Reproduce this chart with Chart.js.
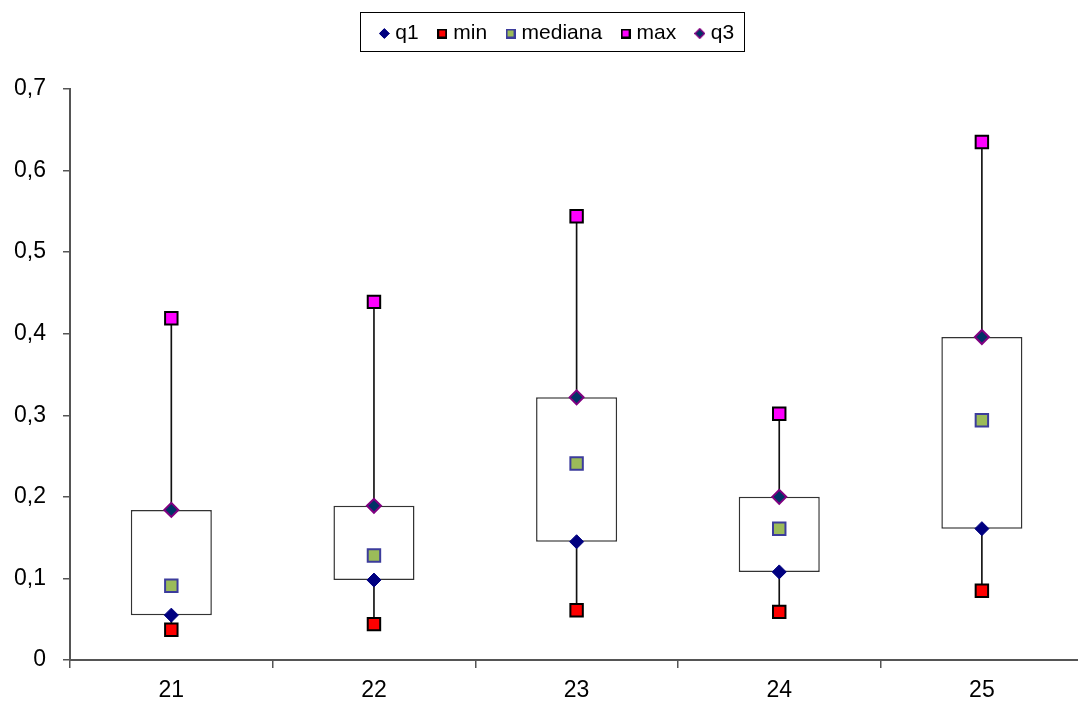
<!DOCTYPE html>
<html>
<head>
<meta charset="utf-8">
<title>Box plot 21–25</title>
<script src="https://cdn.jsdelivr.net/npm/chart.js@4/dist/chart.umd.min.js"></script>
<style>
  html, body { margin: 0; padding: 0; background: #fff; overflow: hidden; }
  #wrap { width: 1078px; height: 702px; overflow: hidden; }
  canvas { display: block; }
</style>
</head>
<body>
<div id="wrap"><canvas id="chart" width="1094" height="702"></canvas></div>
<script>
// ---- data -------------------------------------------------------------
const categories   = ['21', '22', '23', '24', '25'];
const q1Values     = [0.055, 0.098, 0.145, 0.108, 0.161];
const minValues    = [0.037, 0.044, 0.061, 0.059, 0.085];
const medianValues = [0.091, 0.128, 0.241, 0.161, 0.294];
const maxValues    = [0.419, 0.439, 0.544, 0.302, 0.635];
const q3Values     = [0.184, 0.189, 0.322, 0.200, 0.396];
const seriesNames  = ['q1', 'min', 'mediana', 'max', 'q3'];
const yMin = 0, yMax = 0.7, yStep = 0.1;

// ---- styling ----------------------------------------------------------
const FONT = "'Liberation Sans', Arial, Helvetica, sans-serif";
const AXIS = '#555555';
const LEGEND_SHIFT = 13;   // horizontal nudge of the legend row

// small marker images used in the legend
function makeIcon(shape, size, fill, stroke, lw) {
  const c = document.createElement('canvas');
  c.width = size; c.height = size;
  const g = c.getContext('2d');
  g.fillStyle = fill; g.strokeStyle = stroke; g.lineWidth = lw;
  const h = size / 2, i = lw / 2;
  g.beginPath();
  if (shape === 'diamond') {
    g.moveTo(h, i); g.lineTo(size - i, h); g.lineTo(h, size - i); g.lineTo(i, h);
    g.closePath();
  } else {
    g.rect(i, i, size - lw, size - lw);
  }
  g.fill();
  if (lw > 0) g.stroke();
  return c;
}

const markerStyles = [
  { style: 'rectRot', radius: 7,   fill: '#000080', stroke: '#000080', width: 1, icon: makeIcon('diamond', 11, '#000080', '#000080', 1) },
  { style: 'rect',    radius: 8.8, fill: '#ff0000', stroke: '#000000', width: 2, icon: makeIcon('square', 10, '#ff0000', '#000000', 2) },
  { style: 'rect',    radius: 8.8, fill: '#9bbb59', stroke: '#3c3c9c', width: 2, icon: makeIcon('square', 10, '#9bbb59', '#3c3c9c', 2) },
  { style: 'rect',    radius: 8.8, fill: '#ff00ff', stroke: '#000000', width: 2, icon: makeIcon('square', 10, '#ff00ff', '#000000', 2) },
  { style: 'rectRot', radius: 7,   fill: '#003366', stroke: '#800080', width: 2, icon: makeIcon('diamond', 11, '#003366', '#800080', 1.5) }
];
const markerValues = [q1Values, minValues, medianValues, maxValues, q3Values];

const markerDatasets = seriesNames.map((name, k) => ({
  type: 'line',
  label: name,
  data: markerValues[k],
  showLine: false,
  pointStyle: markerStyles[k].style,
  pointRadius: markerStyles[k].radius,
  pointHoverRadius: markerStyles[k].radius,
  pointBackgroundColor: markerStyles[k].fill,
  pointBorderColor: markerStyles[k].stroke,
  pointBorderWidth: markerStyles[k].width,
  order: 0
}));

// whisker (min..max) behind the white box (q1..q3)
const whiskerDataset = {
  type: 'bar',
  label: 'whisker',
  data: categories.map((_, i) => [minValues[i], maxValues[i]]),
  backgroundColor: '#111111',
  borderWidth: 0,
  barThickness: 1,
  order: 2
};
const boxDataset = {
  type: 'bar',
  label: 'box',
  data: categories.map((_, i) => [q1Values[i], q3Values[i]]),
  backgroundColor: '#ffffff',
  borderColor: '#333333',
  borderWidth: 1.5,
  borderSkipped: false,
  barPercentage: 0.4,
  categoryPercentage: 1,
  order: 1
};

// legend: extra space below it, a small horizontal nudge, and a frame
const legendFrame = {
  id: 'legendFrame',
  beforeInit(chart) {
    const legend = chart.legend;
    const fit = legend.fit;
    legend.fit = function () { fit.call(this); this.height = 89; };
    const draw = legend.draw;
    legend.draw = function (area) {
      const ctx = this.ctx;
      ctx.save();
      ctx.translate(LEGEND_SHIFT, 0);
      draw.call(this, area);
      ctx.restore();
    };
  },
  afterDraw(chart) {
    const boxes = chart.legend.legendHitBoxes;
    if (!boxes || !boxes.length) return;
    const first = boxes[0], last = boxes[boxes.length - 1];
    const cy = first.top + first.height / 2;
    const left = Math.round(first.left + LEGEND_SHIFT - 24) + 0.5;
    const right = Math.round(last.left + last.width + LEGEND_SHIFT + 10) + 0.5;
    const top = Math.round(cy - 22) + 0.5;
    const bottom = Math.round(cy + 17) + 0.5;
    const ctx = chart.ctx;
    ctx.save();
    ctx.strokeStyle = '#000000';
    ctx.lineWidth = 1;
    ctx.strokeRect(left, top, right - left, bottom - top);
    ctx.restore();
  }
};

Chart.defaults.font.family = FONT;
Chart.defaults.color = '#000000';

new Chart(document.getElementById('chart'), {
  type: 'bar',
  data: {
    labels: categories,
    datasets: [...markerDatasets, boxDataset, whiskerDataset]
  },
  options: {
    responsive: false,
    animation: false,
    devicePixelRatio: 1,
    layout: { padding: { top: 0, left: 0, right: 2, bottom: 0 } },
    plugins: {
      tooltip: { enabled: false },
      legend: {
        position: 'top',
        labels: {
          usePointStyle: true,
          boxWidth: 1,
          padding: 23,
          color: '#000000',
          font: { family: FONT, size: 21 },
          generateLabels: () => seriesNames.map((name, k) => ({
            text: name,
            pointStyle: markerStyles[k].icon,
            fillStyle: markerStyles[k].fill,
            strokeStyle: markerStyles[k].stroke,
            lineWidth: 0,
            hidden: false,
            datasetIndex: k,
            fontColor: '#000000'
          }))
        }
      }
    },
    scales: {
      x: {
        stacked: true,
        offset: true,
        afterFit(scale) { scale.height = 42; },
        grid: {
          offset: true,
          drawOnChartArea: false,
          drawTicks: true,
          tickLength: 8,
          color: AXIS,
          lineWidth: 1.5
        },
        border: { display: true, color: AXIS, width: 2 },
        ticks: {
          font: { family: FONT, size: 23 },
          color: '#000000',
          padding: 9,
          maxRotation: 0
        }
      },
      y: {
        stacked: false,
        min: yMin,
        max: yMax,
        afterFit(scale) { scale.width = 70; },
        grid: {
          drawOnChartArea: false,
          drawTicks: true,
          tickLength: 7,
          color: AXIS,
          lineWidth: 1.5
        },
        border: { display: true, color: AXIS, width: 2 },
        ticks: {
          stepSize: yStep,
          font: { family: FONT, size: 23 },
          color: '#000000',
          padding: 17,
          callback: (v) => (Math.abs(v) < 1e-9 ? '0' : Number(v).toFixed(1).replace('.', ','))
        }
      }
    }
  },
  plugins: [legendFrame]
});
</script>
</body>
</html>
